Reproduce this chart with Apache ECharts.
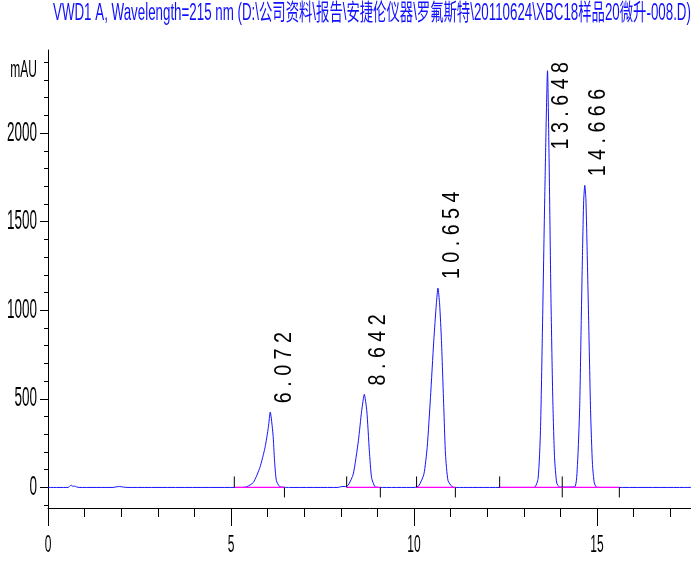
<!DOCTYPE html>
<html>
<head>
<meta charset="utf-8">
<script src="https://cdn.jsdelivr.net/npm/echarts@6/dist/echarts.min.js"></script>
<style>html,body{margin:0;padding:0;background:#fff}#c{width:691px;height:568px}</style>
</head>
<body>
<div id="c"></div>
<script>
// ---------------- DATA ----------------
const titleText = 'VWD1 A, Wavelength=215 nm (D:\\公司资料\\报告\\安捷伦仪器\\罗氟斯特\\20110624\\XBC18样品20微升-008.D)';
const yUnitLabel = 'mAU';

const traceTime = [
  0, 0.55, 0.60, 0.64, 0.68, 0.72, 0.78, 0.85,
  1.78, 1.88, 1.96, 2.06, 2.16,
  5.28, 5.43, 5.61, 5.79, 5.93, 6.02, 6.072, 6.147, 6.19, 6.24, 6.33, 6.45, 6.60,
  7.92, 8.00, 8.06, 8.12, 8.20, 8.34, 8.48, 8.57, 8.642, 8.71, 8.78, 8.84, 8.93, 9.05,
  10.00, 10.13, 10.27, 10.36, 10.45, 10.54, 10.61, 10.654, 10.70, 10.75, 10.82, 10.86, 10.93, 11.05, 11.15,
  13.28, 13.39, 13.455, 13.51, 13.575, 13.648, 13.69, 13.74, 13.79, 13.84, 13.90, 13.98,
  14.386, 14.466, 14.526, 14.566, 14.606, 14.636, 14.666, 14.696, 14.726, 14.776, 14.826, 14.876, 14.926, 14.986, 15.10,
  17.57
];
const traceSignal = [
  0, 0, 9, 12, 6, 8, 3, 0,
  0, 4, 5, 2, 0,
  0, 4, 28, 113, 226, 339, 425, 301, 150, 38, 5, 1, 0,
  0, 4, 5, 5, 12, 75, 263, 433, 525, 433, 207, 56, 5, 0,
  0, 9, 75, 226, 508, 828, 1035, 1125, 1035, 828, 414, 188, 38, 3, 0,
  0, 50, 320, 900, 1670, 2352, 1863, 1093, 515, 168, 25, 2,
  3, 130, 450, 900, 1350, 1620, 1705, 1630, 1380, 900, 420, 130, 25, 2, 0,
  0
];

const peakTimes  = [6.072, 8.642, 10.654, 13.648, 14.666];
const peakLabels = ['6.072', '8.642', '10.654', '13.648', '14.666'];
const integStart = [5.09, 8.16, 10.07, 12.34, 14.05];
const integEnd   = [6.46, 9.08, 11.13, 14.05, 15.61];

const xMajorTicks = [0, 5, 10, 15];
const xMinorTicks = [1, 2, 3, 4, 6, 7, 8, 9, 11, 12, 13, 14, 16, 17];
const yMajorTicks = [0, 500, 1000, 1500, 2000];
const yMinorTicks = [-100, 100, 200, 300, 400, 600, 700, 800, 900, 1100, 1200, 1300, 1400,
                     1600, 1700, 1800, 1900, 2100, 2200, 2300, 2400];
const xRange = [0, 17.568];
const yRange = [-116, 2469];

// ---------------- BUILD ----------------
const tracePoints = traceTime.map((t, i) => [t, traceSignal[i]]);
const peakPoints = peakTimes.map((t, i) => [t, traceSignal[traceTime.indexOf(t)], i]);
const integPoints = integStart.map((s, i) => [s, integEnd[i]]);

const sans = '"Liberation Sans", Arial, sans-serif';
const labelFont = '24px ' + sans;
const labelScale = 0.82;     // horizontal compression of the tall, narrow instrument font
const axisTextScale = 0.5;
const measureCtx = document.createElement('canvas').getContext('2d');
measureCtx.font = labelFont;

function spaced(s) { return s.split('').join(' '); }

const chart = echarts.init(document.getElementById('c'), null, {renderer: 'canvas'});
const option = {
  animation: false,
  backgroundColor: '#ffffff',
  grid: {left: 48, right: 0, top: 50, bottom: 60, containLabel: false, outerBoundsMode: 'none'},
  graphic: [{
    type: 'text', x: 53, y: 14, scaleX: 0.58, scaleY: 1,
    style: {
      text: titleText,
      font: '23px "Liberation Sans", Arial, "Noto Sans CJK SC", sans-serif',
      fill: '#1010ff', align: 'left', verticalAlign: 'middle'
    }
  }],
  xAxis: [{
    type: 'value', min: xRange[0], max: xRange[1], position: 'bottom',
    axisLine: {show: true, onZero: false, lineStyle: {color: '#000', width: 1}},
    axisTick: {show: true, customValues: xMajorTicks, length: 18, inside: false, lineStyle: {color: '#000'}},
    axisLabel: {show: true, customValues: xMajorTicks, margin: 25, color: '#000', fontSize: 24, fontFamily: sans,
                formatter: v => String(v)},
    splitLine: {show: false}
  }, {
    type: 'value', min: xRange[0], max: xRange[1], position: 'bottom',
    axisLine: {show: false, onZero: false},
    axisTick: {show: true, customValues: xMinorTicks, length: 9, lineStyle: {color: '#000'}},
    axisLabel: {show: false},
    splitLine: {show: false}
  }],
  yAxis: [{
    type: 'value', min: yRange[0], max: yRange[1], position: 'left',
    name: yUnitLabel, nameLocation: 'end', nameGap: -20,
    nameTextStyle: {color: '#000', fontSize: 24, fontFamily: sans, align: 'right', verticalAlign: 'middle', padding: [0, 22, 0, 0]},
    axisLine: {show: true, onZero: false, lineStyle: {color: '#000', width: 1}},
    axisTick: {show: true, customValues: yMajorTicks, length: 8, lineStyle: {color: '#000'}},
    axisLabel: {show: true, customValues: yMajorTicks, margin: 11, color: '#000', fontSize: 27, fontFamily: sans,
                formatter: v => String(v)},
    splitLine: {show: false}
  }, {
    type: 'value', min: yRange[0], max: yRange[1], position: 'left', offset: 0,
    axisLine: {show: false, onZero: false},
    axisTick: {show: true, customValues: yMinorTicks, length: 4, lineStyle: {color: '#000'}},
    axisLabel: {show: false},
    splitLine: {show: false}
  }],
  series: [{
    name: 'VWD1 A', type: 'line', xAxisIndex: 0, yAxisIndex: 0,
    data: tracePoints, showSymbol: false, smooth: 0.2,
    lineStyle: {color: '#1414ff', width: 1}, z: 3, silent: true
  }, {
    name: 'integration', type: 'custom', xAxisIndex: 0, yAxisIndex: 0,
    data: integPoints, z: 10, silent: true,
    renderItem: function (params, api) {
      const a = api.coord([api.value(0), 0]);
      const b = api.coord([api.value(1), 0]);
      return {type: 'group', children: [
        {type: 'line', shape: {x1: a[0], y1: a[1], x2: b[0], y2: b[1]}, style: {stroke: '#ff00ff', lineWidth: 1.2}},
        {type: 'line', shape: {x1: a[0], y1: a[1], x2: a[0], y2: a[1] - 11}, style: {stroke: '#000', lineWidth: 1}},
        {type: 'line', shape: {x1: b[0], y1: b[1], x2: b[0], y2: b[1] + 10}, style: {stroke: '#000', lineWidth: 1}}
      ]};
    }
  }, {
    name: 'peaks', type: 'custom', xAxisIndex: 0, yAxisIndex: 0,
    data: peakPoints, z: 11, silent: true,
    renderItem: function (params, api) {
      const p = api.coord([api.value(0), api.value(1)]);
      const txt = spaced(peakLabels[api.value(2)]);
      const len = measureCtx.measureText(txt).width * labelScale;
      const topLimit = params.coordSys.y + 12;
      let y = p[1] - 9, align = 'left';
      if (y - len < topLimit) { y = topLimit; align = 'right'; }
      return {type: 'text', x: p[0] + 14, y: y, rotation: Math.PI / 2, scaleX: labelScale, scaleY: 1,
        style: {text: txt, font: labelFont, fill: '#000', align: align, verticalAlign: 'middle'}};
    }
  }]
};
chart.setOption(option);

// Compress the axis texts horizontally, like the narrow instrument font of the original
const axisTexts = new Set(xMajorTicks.concat(yMajorTicks).map(String).concat([yUnitLabel]));
function narrowAxisText() {
  const zr = chart.getZr();
  let changed = false;
  zr.storage.getRoots().forEach(root => {
    root.traverse(el => {
      if (el.type === 'text' && el.style && axisTexts.has(String(el.style.text)) && el.scaleX !== axisTextScale) {
        el.scaleX = axisTextScale;
        el.originX = 0; el.originY = 0;
        el.markRedraw();
        changed = true;
      }
    });
  });
  if (changed) zr.refresh();
}
narrowAxisText();
chart.on('finished', narrowAxisText);
</script>
</body>
</html>
